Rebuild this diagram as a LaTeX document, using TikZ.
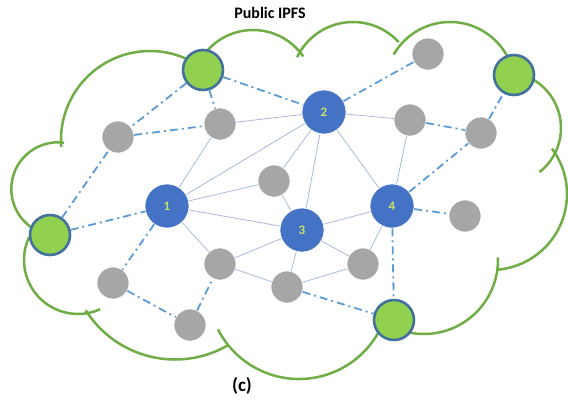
\documentclass[tikz,border=0pt]{standalone}
\usepackage{fontspec}
\setmainfont{Carlito}
\definecolor{nodeblue}{HTML}{4472C4}
\definecolor{nodegreen}{HTML}{92D050}
\definecolor{ringblue}{HTML}{41719C}
\definecolor{nodegray}{HTML}{A6A6A6}
\definecolor{cloudc}{HTML}{70AD47}
\definecolor{linkc}{HTML}{A9B9D9}
\definecolor{ddc}{HTML}{5B9BD5}
\definecolor{numc}{HTML}{C8E264}
\begin{document}
\begin{tikzpicture}[x=1pt,y=-1pt,
  bluen/.style={circle, fill=nodeblue, draw=white, line width=0.6pt, minimum size=44pt, inner sep=0pt, text=numc, font=\bfseries\fontsize{13}{13}\selectfont},
  greenn/.style={circle, fill=nodegreen, draw=ringblue, line width=2.6pt, minimum size=40pt, inner sep=0pt},
  grayn/.style={circle, fill=nodegray, draw=white, line width=0.6pt, minimum size=32pt, inner sep=0pt},
  link/.style={draw=linkc, line width=0.8pt},
  dd/.style={draw=ddc, line width=1.8pt, dash pattern=on 8pt off 4pt on 2pt off 4pt},
  cloud/.style={draw=cloudc, line width=2.5pt}]
\useasboundingbox (0,0) rectangle (568,400);
% cloud outline (lobes)
\draw[cloud] (150,140) ++(-184.5:89) arc[start angle=-184.5, end angle=-59.1, radius=89];
\draw[cloud] (253,91) ++(-142.1:61) arc[start angle=-142.1, end angle=-34.5, radius=61];
\draw[cloud] (353,84) ++(-154.3:62) arc[start angle=-154.3, end angle=-42.4, radius=62];
\draw[cloud] (450,87) ++(-150:65) arc[start angle=-150, end angle=-20, radius=65];
\draw[cloud] (505,128) ++(-80:56) arc[start angle=-80, end angle=52, radius=56];
\draw[cloud] (491,194) ++(-36.7:76) arc[start angle=-36.7, end angle=85.5, radius=76];
\draw[cloud] (424,260) ++(-2:74) arc[start angle=-2, end angle=103, radius=74];
\draw[cloud] (299,288) ++(27:91) arc[start angle=27, end angle=153, radius=91];
\draw[cloud] (175,254) ++(59.8:105.5) arc[start angle=59.8, end angle=147.8, radius=105.5];
\draw[cloud] (78,260) ++(205:54) arc[start angle=205, end angle=65.8, radius=54];
\draw[cloud] (58,189) ++(-82.6:46.7) arc[start angle=-82.6, end angle=-240, radius=46.7];
% nodes
\node[bluen] (n1) at (167,206) {1};
\node[bluen] (n2) at (324,112) {2};
\node[bluen] (n3) at (302,230) {3};
\node[bluen] (n4) at (392,206) {4};
\node[greenn] (gt) at (203,70) {};
\node[greenn] (gr) at (514,75) {};
\node[greenn] (gl) at (50,235) {};
\node[greenn] (gb) at (394,320) {};
\node[grayn] (ga) at (118,137) {};
\node[grayn] (gbb) at (220,124) {};
\node[grayn] (gc) at (428,54) {};
\node[grayn] (gd) at (410,120) {};
\node[grayn] (ge) at (481,133) {};
\node[grayn] (gf) at (274,181) {};
\node[grayn] (gg) at (465,216) {};
\node[grayn] (gh) at (220,264) {};
\node[grayn] (gi) at (113,283) {};
\node[grayn] (gj) at (190,325) {};
\node[grayn] (gk) at (363,264) {};
\node[grayn] (gl2) at (287,287) {};
% solid links
\draw[link] (gbb) -- (n2);
\draw[link] (gbb) -- (n1);
\draw[link] (n1) -- (n2);
\draw[link] (n1) -- (gf);
\draw[link] (n1) -- (n3);
\draw[link] (n1) -- (gh);
\draw[link] (gf) -- (n2);
\draw[link] (gf) -- (n3);
\draw[link] (n2) -- (n3);
\draw[link] (n2) -- (n4);
\draw[link] (n2) -- (gd);
\draw[link] (gd) -- (n4);
\draw[link] (n3) -- (n4);
\draw[link] (n3) -- (gh);
\draw[link] (n3) -- (gk);
\draw[link] (n3) -- (gl2);
\draw[link] (n4) -- (gk);
\draw[link] (gh) -- (gl2);
\draw[link] (gl2) -- (gk);
% dash-dot links
\draw[dd] (gt) -- (ga);
\draw[dd] (gt) -- (gbb);
\draw[dd] (gt) -- (n2);
\draw[dd] (ga) -- (gbb);
\draw[dd] (gl) -- (ga);
\draw[dd] (gl) -- (n1);
\draw[dd] (n1) -- (gi);
\draw[dd] (gi) -- (gj);
\draw[dd] (gj) -- (gh);
\draw[dd] (gl2) -- (gb);
\draw[dd] (n4) -- (gb);
\draw[dd] (n4) -- (gg);
\draw[dd] (n4) -- (ge);
\draw[dd] (ge) -- (gr);
\draw[dd] (gd) -- (ge);
\draw[dd] (n2) -- (gc);
% texts
\node[font=\bfseries\fontsize{16}{16}\selectfont] (title) at (270,13) {Public IPFS};
\node[font=\bfseries\fontsize{19}{19}\selectfont] (cap) at (242,386) {(c)};
\end{tikzpicture}
\end{document}
